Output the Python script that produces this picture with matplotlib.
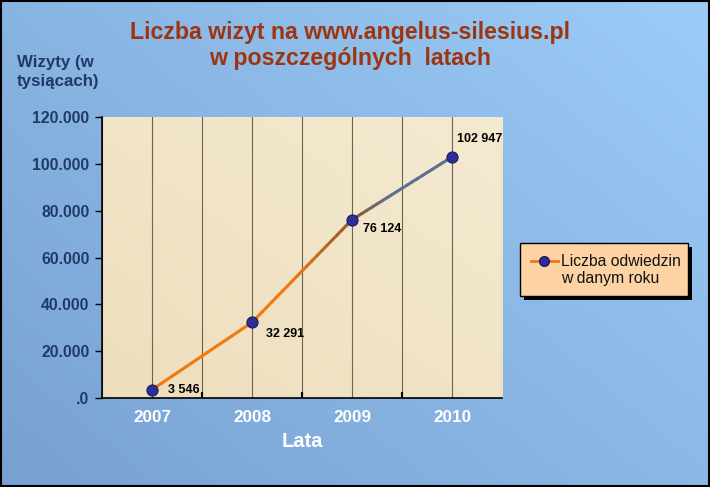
import numpy as np
import matplotlib
matplotlib.use("Agg")
import matplotlib.pyplot as plt
from matplotlib.collections import LineCollection
from matplotlib.patches import Rectangle
from matplotlib.lines import Line2D

years = ["2007", "2008", "2009", "2010"]
visits = [3546, 32291, 76124, 102947]
value_labels = ["3 546", "32 291", "76 124", "102 947"]
yticks = [0, 20000, 40000, 60000, 80000, 100000, 120000]
ytick_labels = [".0", "20.000", "40.000", "60.000", "80.000", "100.000", "120.000"]

plt.rcParams['font.family'] = ['Liberation Sans', 'DejaVu Sans']

fig = plt.figure(figsize=(7.1, 4.87), dpi=100)

# background gradient
bg = fig.add_axes([0, 0, 1, 1], zorder=-10)
gx, gy = np.meshgrid(np.linspace(0, 1, 200), np.linspace(0, 1, 200))
t = 0.55 * gx + 0.45 * (1 - gy)
c0 = np.array([0.47, 0.63, 0.82])
c1 = np.array([0.61, 0.80, 0.97])
img = c0 + (c1 - c0) * t[..., None]
bg.imshow(img, extent=[0, 1, 0, 1], aspect='auto', origin='upper')
bg.set_xlim(0, 1); bg.set_ylim(0, 1)
bg.axis('off')
bg.add_patch(Rectangle((0.001, 0.002), 0.997, 0.996, fill=False, ec='black', lw=1.5,
                       transform=bg.transAxes))

ax = fig.add_axes([102/710, 1 - 398/487, 400/710, 281/487])
ax.set_facecolor('#efe0bf')
px, py = np.meshgrid(np.linspace(0, 1, 100), np.linspace(0, 1, 100))
pt = 0.5 * px + 0.5 * py
p0 = np.array([0.93, 0.87, 0.74]); p1 = np.array([0.96, 0.92, 0.82])
ax.imshow(p0 + (p1 - p0) * pt[..., None], extent=[-0.5, 3.5, 0, 120000],
          aspect='auto', origin='lower', zorder=0)

x = np.arange(len(years))
ax.set_xlim(-0.5, 3.5)
ax.set_ylim(0, 120000)

for gxv in np.arange(-0.5, 3.6, 0.5):
    ax.axvline(gxv, color='#6e6350', lw=0.8, zorder=1)

pts = np.column_stack([x, visits])
segs = []
cols = []
n_sub = 20
c_or = np.array([0.95, 0.47, 0.06])
c_br = np.array([0.55, 0.35, 0.18])
c_gr = np.array([0.36, 0.44, 0.57])
for i in range(len(x) - 1):
    for k in range(n_sub):
        a = k / n_sub; b = (k + 1) / n_sub
        p_a = pts[i] + (pts[i + 1] - pts[i]) * a
        p_b = pts[i] + (pts[i + 1] - pts[i]) * b
        segs.append([p_a, p_b])
        if i == 0:
            col = c_or
        elif i == 1:
            m = max(0, (a - 0.4) / 0.6)
            col = c_or + (c_br - c_or) * m
        else:
            m = min(1, a / 0.35)
            col = c_br + (c_gr - c_br) * m
        cols.append(col)
lc = LineCollection(segs, colors=cols, linewidths=2.2, zorder=3, capstyle='round')
ax.add_collection(lc)
ax.plot(x, visits, ls='none', marker='o', ms=8, mfc='#2e2e9a', mec='#1a1a60', mew=0.8, zorder=4)

offsets = [(11.5, 0), (10, -8.6), (8, -6.5), (3.6, 13)]
for xi, v, lab, (dx, dy) in zip(x, visits, value_labels, offsets):
    ax.annotate(lab, (xi, v), xytext=(dx, dy), textcoords='offset points',
                fontsize=9, fontweight='bold', color='black', ha='left', va='center', zorder=5)

ax.set_yticks(yticks)
ax.set_yticklabels(ytick_labels, fontsize=11.3, fontweight='bold', color='#1f3a64')
ax.tick_params(axis='y', direction='out', length=5, width=1, color='black', pad=4)
ax.set_xticks(x)
ax.set_xticklabels(years, fontsize=12.3, fontweight='bold', color='white')
ax.tick_params(axis='x', length=0, pad=9)
ax.set_xticks([0.5, 1.5, 2.5], minor=True)
ax.tick_params(axis='x', which='minor', direction='in', length=4, width=1.5, color='black')
ax.set_xlabel('Lata', fontsize=14.5, fontweight='bold', color='white', labelpad=5)

for s in ['top', 'right']:
    ax.spines[s].set_visible(False)
for s in ['left', 'bottom']:
    ax.spines[s].set_color('black')
    ax.spines[s].set_linewidth(1.2)

fig.text(350/710, 1 - 32/487, 'Liczba wizyt na www.angelus-silesius.pl', ha='center', va='center',
         fontsize=16.7, fontweight='bold', color='#9c3510')
fig.text(350/710, 1 - 58/487, 'w poszczególnych  latach', ha='center', va='center',
         fontsize=16.7, fontweight='bold', color='#9c3510')
fig.text(17/710, 1 - 72/487, 'Wizyty (w\ntysiącach)', ha='left', va='center',
         fontsize=12.2, fontweight='bold', color='#1f3a64', linespacing=1.4)

lx0, ly0, lw_, lh_ = 520/710, 1 - 296/487, 168/710, 53/487
bg.add_patch(Rectangle((lx0 + 4/710, ly0 - 4/487), lw_, lh_, fc='black', ec='none', zorder=5))
bg.add_patch(Rectangle((lx0, ly0), lw_, lh_, fc='#fdd3a3', ec='black', lw=1, zorder=6))
bg.add_line(Line2D([531/710, 558/710], [1 - 261/487] * 2, color='#f07810', lw=2, zorder=7))
bg.plot([544/710], [1 - 261/487], marker='o', ms=7, mfc='#2e2e9a', mec='#1a1a60', zorder=8)
bg.text(561/710, 1 - 261/487, 'Liczba odwiedzin', ha='left', va='center', fontsize=11.3,
        color='#111111', zorder=8)
bg.text(561/710, 1 - 279/487, 'w danym roku', ha='left', va='center', fontsize=11.3,
        color='#111111', zorder=8)

fig.savefig('out.png', dpi=100)
